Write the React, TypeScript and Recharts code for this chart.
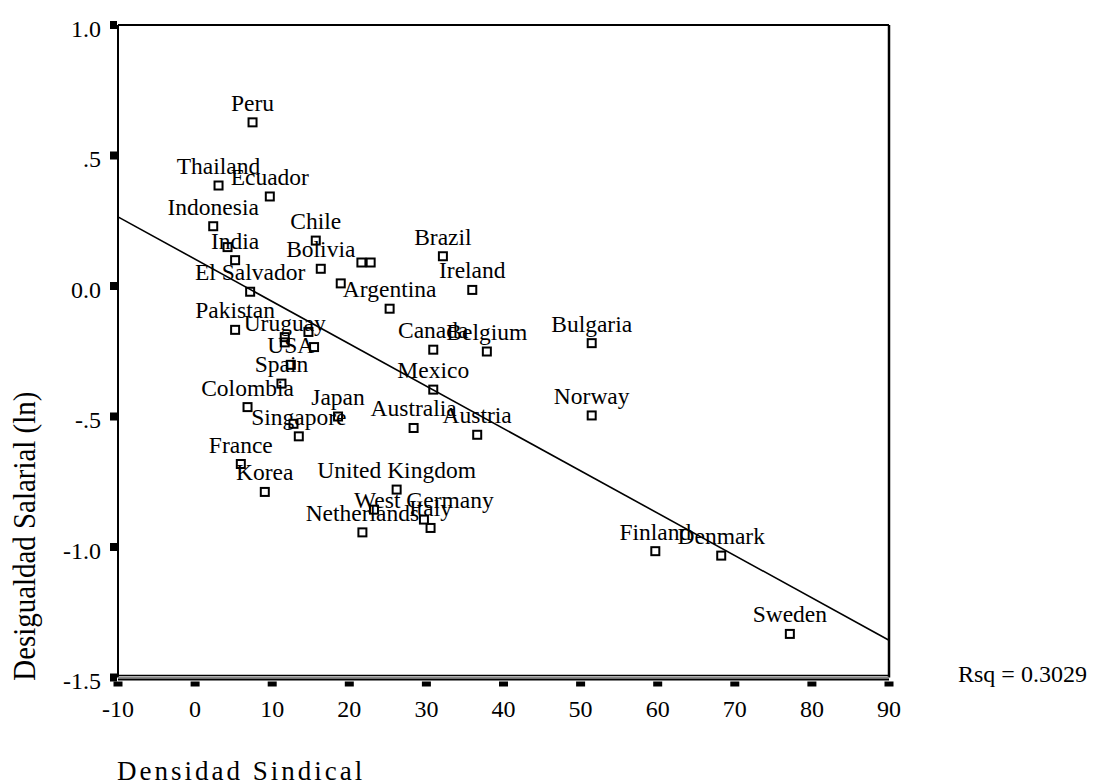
import React from "react";
import { ScatterChart, Scatter, XAxis, YAxis, ReferenceLine } from "recharts";

const FONT = "'Liberation Serif', 'Times New Roman', serif";

const countries = [
  "Peru", "Thailand", "Ecuador", "Indonesia", "Chile", "", "India", "Bolivia", "", "",
  "El Salvador", "", "Argentina", "Brazil", "Ireland", "Canada", "Belgium", "Bulgaria", "Mexico", "Norway",
  "Japan", "Australia", "Austria", "Pakistan", "", "Uruguay", "", "", "USA", "Spain",
  "Colombia", "", "Singapore", "France", "Korea", "United Kingdom", "", "West Germany", "Italy", "Netherlands",
  "Finland", "Denmark", "Sweden",
];

const densidadSindical = [
  7.45, 3.04, 9.69, 2.35, 15.65, 4.21, 5.19, 16.3, 21.57, 22.77,
  7.14, 18.89, 25.23, 32.14, 35.95, 30.89, 37.84, 51.44, 30.89, 51.44,
  18.54, 28.34, 36.59, 5.19, 14.7, 11.63, 11.63, 15.43, 12.41, 11.2,
  6.8, 12.76, 13.45, 5.93, 9.04, 26.14, 23.2, 29.68, 30.54, 21.7,
  59.69, 68.24, 77.14,
];

const desigualdadSalarial = [
  0.627, 0.385, 0.343, 0.229, 0.174, 0.149, 0.099, 0.066, 0.09, 0.09,
  -0.022, 0.01, -0.087, 0.114, -0.015, -0.244, -0.251, -0.219, -0.397, -0.496,
  -0.5, -0.544, -0.57, -0.168, -0.176, -0.216, -0.196, -0.234, -0.302, -0.374,
  -0.464, -0.528, -0.576, -0.682, -0.789, -0.78, -0.857, -0.895, -0.927, -0.944,
  -1.016, -1.033, -1.333,
];

const xTicks = [-10, 0, 10, 20, 30, 40, 50, 60, 70, 80, 90];
const yTicks = [-1.5, -1.0, -0.5, 0, 0.5, 1.0];
const yTickLabels = ["-1.5", "-1.0", "-.5", "0.0", ".5", "1.0"];

const fitLine = [
  { x: -10, y: 0.265 },
  { x: 90, y: -1.357 },
];
const rsqText = "Rsq = 0.3029";
const xTitle = "Densidad Sindical";
const yTitle = "Desigualdad Salarial (ln)";

const points = countries.map((name, i) => ({
  name,
  x: densidadSindical[i],
  y: desigualdadSalarial[i],
}));

const Marker = (props: any) => {
  const { cx, cy, payload } = props;
  if (cx == null || cy == null) return null;
  return (
    <g>
      <rect x={cx - 4} y={cy - 4} width={8} height={8} fill="none" stroke="#000" strokeWidth={2} />
      {payload && payload.name ? (
        <text x={cx} y={cy - 11.5} textAnchor="middle" fontSize={23.5} fontFamily={FONT} fill="#000">
          {payload.name}
        </text>
      ) : null}
    </g>
  );
};

const XTick = (props: any) => {
  const { x, y, payload } = props;
  return (
    <g>
      <rect x={x - 4.5} y={y + 4} width={9} height={5} fill="#000" />
      <text x={x} y={y + 39} textAnchor="middle" fontSize={24} fontFamily={FONT} fill="#000">
        {String(payload.value)}
      </text>
    </g>
  );
};

const YTick = (props: any) => {
  const { x, y, payload } = props;
  const idx = yTicks.findIndex((t) => Math.abs(t - payload.value) < 1e-9);
  const label = idx >= 0 ? yTickLabels[idx] : String(payload.value);
  return (
    <g>
      <rect x={x - 8} y={y - 4} width={7} height={8} fill="#000" />
      <text x={x - 17} y={y + 11.5} textAnchor="end" fontSize={24} fontFamily={FONT} fill="#000">
        {label}
      </text>
    </g>
  );
};

const BottomFrame = (props: any) => {
  const { x1, x2, y1 } = props;
  return (
    <g>
      <line x1={x1} x2={x2} y1={y1 - 2} y2={y1 - 2} stroke="#000" strokeWidth={1.5} />
      <line x1={x1} x2={x2} y1={y1} y2={y1} stroke="#888" strokeWidth={1.5} />
      <line x1={x1} x2={x2} y1={y1 + 2} y2={y1 + 2} stroke="#000" strokeWidth={2} />
    </g>
  );
};

export default function App() {
  return (
    <div style={{ position: "absolute", left: 0, top: 0, width: 1098, height: 783, background: "#fff" }}>
      <ScatterChart
        width={1098}
        height={783}
        margin={{ top: 25, right: 209, bottom: 65.5, left: 58 }}
      >
        <XAxis
          type="number"
          dataKey="x"
          domain={[-10, 90]}
          ticks={xTicks}
          allowDataOverflow
          height={40}
          axisLine={false}
          tickLine={false}
          tickSize={0}
          tickMargin={0}
          tick={<XTick />}
          interval={0}
          label={{
            content: (p: any) => {
              const vb = p.viewBox || { x: 118, y: 677.5 };
              return (
                <text
                  x={vb.x - 1}
                  y={vb.y + 102.5}
                  fontSize={27}
                  letterSpacing={3}
                  fontFamily={FONT}
                  fill="#000"
                >
                  {xTitle}
                </text>
              );
            },
          }}
        />
        <YAxis
          type="number"
          dataKey="y"
          domain={[-1.5, 1.0]}
          ticks={yTicks}
          allowDataOverflow
          width={60}
          axisLine={false}
          tickLine={false}
          tickSize={0}
          tickMargin={0}
          tick={<YTick />}
          interval={0}
          label={{
            content: (p: any) => {
              const vb = p.viewBox || { x: 58, y: 25, height: 652.5 };
              const cx = 35;
              const cy = vb.y + vb.height * 0.7835;
              return (
                <text
                  x={cx}
                  y={cy}
                  transform={`rotate(-90, ${cx}, ${cy})`}
                  textAnchor="middle"
                  fontSize={31}
                  textLength={289}
                  lengthAdjust="spacingAndGlyphs"
                  fontFamily={FONT}
                  fill="#000"
                >
                  {yTitle}
                </text>
              );
            },
          }}
        />
        <ReferenceLine x={-10} stroke="#000" strokeWidth={2} />
        <ReferenceLine x={90} stroke="#000" strokeWidth={2.5} />
        <ReferenceLine y={1.0} stroke="#000" strokeWidth={2} />
        <ReferenceLine y={-1.5} stroke="#000" strokeWidth={2} shape={(p: any) => <BottomFrame {...p} />} />
        <ReferenceLine segment={fitLine} stroke="#000" strokeWidth={1.6} />
        <Scatter data={points} shape={<Marker />} isAnimationActive={false} />
      </ScatterChart>
      <svg
        width={150}
        height={40}
        style={{ position: "absolute", left: 955, top: 655 }}
      >
        <text x={3} y={27} fontSize={24} fontFamily={FONT} fill="#000">
          {rsqText}
        </text>
      </svg>
    </div>
  );
}
